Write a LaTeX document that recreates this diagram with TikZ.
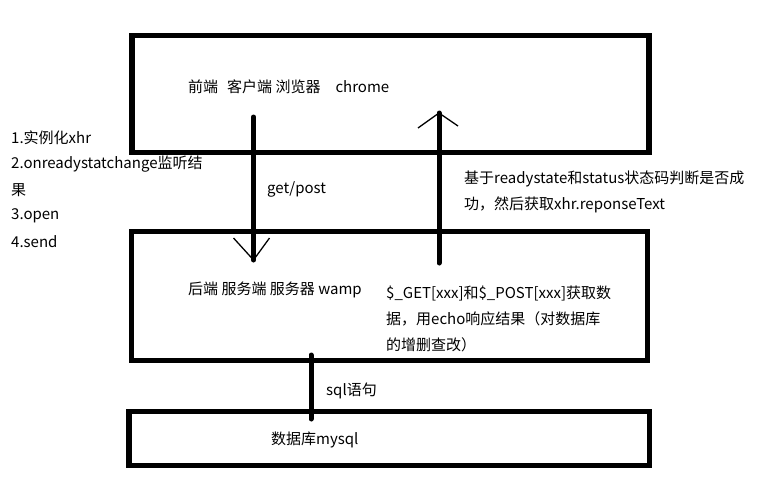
\documentclass[tikz,border=0pt]{standalone}
\usepackage{fontspec}
\setmainfont{Noto Sans CJK SC}
\usetikzlibrary{arrows.meta}

\tikzset{
  box/.style={draw, line width=5.5pt, rectangle, inner sep=0pt},
  txt/.style={anchor=west, inner sep=0pt, font=\fontsize{15}{18}\selectfont},
  link/.style={line width=5pt, line cap=round},
  hand/.style={-{Straight Barb[length=#1]}},
}

\begin{document}
\begin{tikzpicture}[x=1pt, y=-1pt]
    \useasboundingbox (0,0) rectangle (768,480);

    % the three layers
    \node[box, minimum width=517pt, minimum height=117pt] (frontend) at (390.5,94) {};
    \node[box, minimum width=516pt, minimum height=129pt] (backend) at (389.5,296) {};
    \node[box, minimum width=520.5pt, minimum height=54pt] (database) at (389.25,438.5) {};

    \node[txt] (fe-label) at (188,87) {前端\hspace{0.6em}客户端 浏览器\hspace{1em}chrome};
    \node[txt] (be-label) at (188,290) {后端 服务端 服务器 wamp};
    \node[txt] (db-label) at (271,440) {数据库mysql};

    % steps on the client side
    \node[txt] (step1) at (11,138) {1.实例化xhr};
    \node[txt] (step2) at (11,164) {2.onreadystatchange监听结};
    \node[txt] (step2b) at (11,190) {果};
    \node[txt] (step3) at (11,216) {3.open};
    \node[txt] (step4) at (11,242) {4.send};

    % request and response
    \coordinate (req-s) at (253.5,117);
    \coordinate (req-e) at (253.5,260);
    \coordinate (res-s) at (439,263);
    \coordinate (res-e) at (439,113);
    \draw[link] (req-s) -- (req-e);
    \draw[link] (res-s) -- (res-e);
    \draw[line width=1.3pt] ([shift={(-20,-22)}]req-e) -- (req-e) -- ([shift={(16,-22)}]req-e);
    \draw[line width=1.3pt] ([shift={(-21,15)}]res-e) -- (res-e) -- ([shift={(19,13)}]res-e);

    \node[txt] (req-label) at (267,189) {get/post};
    \node[txt] (res-label1) at (464,179) {基于readystate和status状态码判断是否成};
    \node[txt] (res-label2) at (464,205) {功，然后获取xhr.reponseText};

    \node[txt] (php1) at (386,293) {\$\_GET[xxx]和\$\_POST[xxx]获取数};
    \node[txt] (php2) at (386,319) {据，用echo响应结果（对数据库};
    \node[txt] (php3) at (386,345) {的增删查改）};

    % backend to database
    \coordinate (sql-s) at (311,355);
    \coordinate (sql-e) at (311,419);
    \draw[link] (sql-s) -- (sql-e);
    \node[txt] (sql-label) at (326,391) {sql语句};
\end{tikzpicture}
\end{document}
